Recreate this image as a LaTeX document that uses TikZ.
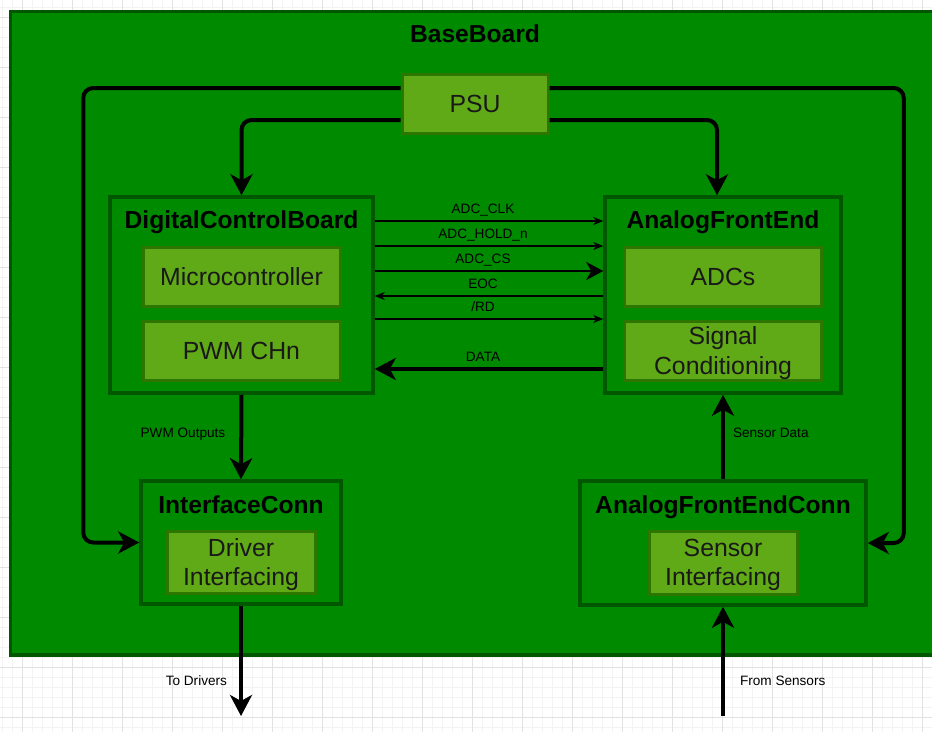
\documentclass[tikz,border=0pt]{standalone}
\usepackage{fontspec}
\setmainfont{Liberation Sans}
\usetikzlibrary{arrows.meta}
\definecolor{bgreen}{HTML}{008A00}
\definecolor{bline}{HTML}{005700}
\definecolor{lgreen}{HTML}{60A917}
\definecolor{lline}{HTML}{2D7600}
\definecolor{gmajor}{HTML}{E2E2E2}
\definecolor{gminor}{HTML}{F3F3F3}
\tikzset{
  board/.style={draw=bline,fill=bgreen,line width=3.5pt,inner sep=0pt},
  part/.style={draw=lline,fill=lgreen,line width=3pt,align=center,inner sep=0pt,text depth=0pt,font=\fontsize{24.8}{29.5}\selectfont,text=black!90},
  unit/.style={part,minimum width=197pt,minimum height=59pt},
  ttl/.style={font=\bfseries\fontsize{24.6}{29}\selectfont,inner sep=0pt,text height=17.5pt,text depth=0pt},
  sig/.style={font=\fontsize{13.6}{16}\selectfont,inner sep=0pt,anchor=base,yshift=7.5pt,xshift=-6pt},
  lbl/.style={font=\fontsize{13.6}{16}\selectfont,inner sep=0pt,text height=9.7pt,text depth=0pt},
  bus/.style={-{Stealth[length=10pt,width=8pt,inset=3pt]},line width=1.3pt},
  busm/.style={-{Stealth[length=17pt,width=18pt,inset=5pt]},line width=2.7pt},
  pwr/.style={-{Stealth[length=21pt,width=22pt,inset=6pt]},line width=4pt,rounded corners=10pt},
}
\begin{document}
\begin{tikzpicture}[x=1pt,y=-1pt]
  \useasboundingbox (0,0) rectangle (932,732);
  \fill[white] (0,0) rectangle (932,732);
  \foreach \x in {2,12,...,932} \draw[gminor,line width=1pt] (\x,0) -- (\x,732);
  \foreach \y in {7,17,...,732} \draw[gminor,line width=1pt] (0,\y) -- (932,\y);
  \foreach \x in {22,72,...,932} \draw[gmajor,line width=1pt] (\x,0) -- (\x,732);
  \foreach \y in {17,67,...,732} \draw[gmajor,line width=1pt] (0,\y) -- (932,\y);

  \node[board,minimum width=935.5pt,minimum height=643.5pt] (base) at (478.25,333.25) {};
  \node[ttl] (baset) at (475,34) {BaseBoard};
  \node[part,minimum width=146pt,minimum height=59pt] (psu) at (475,103.5) {PSU};

  \node[board,minimum width=263pt,minimum height=196pt] (dcb) at (241.5,295) {};
  \node[ttl] (dcbt) at (241.5,220) {DigitalControlBoard};
  \node[unit] (mcu) at (241.5,276.5) {Microcontroller};
  \node[unit] (pwm) at (241.5,350.5) {PWM CHn};

  \node[board,minimum width=236pt,minimum height=196pt] (afe) at (723,295) {};
  \node[ttl] (afet) at (723,220) {AnalogFrontEnd};
  \node[unit] (adc) at (723,276.5) {ADCs};
  \node[unit] (sigc) at (723,350.5) {Signal\\Conditioning};

  \node[board,minimum width=200pt,minimum height=123pt] (ifc) at (241,542.5) {};
  \node[ttl] (ifct) at (241,505) {InterfaceConn};
  \node[part,minimum width=148pt,minimum height=62pt] (drv) at (241,562) {Driver\\Interfacing};

  \node[board,minimum width=286pt,minimum height=124pt] (afec) at (723,543) {};
  \node[ttl] (afect) at (723,505) {AnalogFrontEndConn};
  \node[part,minimum width=148pt,minimum height=63pt] (sens) at (723,562.5) {Sensor\\Interfacing};

  \coordinate (todrv) at (241,716);
  \coordinate (fromsens) at (723,716);

  \draw[pwr] ([yshift=15.5pt]psu.west) -| ([xshift=-56pt]ifc.west) -- (ifc.west);
  \draw[pwr] ([yshift=15.5pt]psu.east) -| ([xshift=36pt]afec.east) -- (afec.east);
  \draw[pwr] ([yshift=-16.5pt]psu.west) -| (dcb.north);
  \draw[pwr] ([yshift=-16.5pt]psu.east) -| ([xshift=-6pt]afe.north);

  \draw[bus] ([yshift=74pt]dcb.east) -- ([yshift=74pt]afe.west) node[sig,midway] {ADC\_CLK};
  \draw[bus] ([yshift=49pt]dcb.east) -- ([yshift=49pt]afe.west) node[sig,midway] {ADC\_HOLD\_n};
  \draw[busm] ([yshift=24pt]dcb.east) -- ([yshift=24pt]afe.west) node[sig,midway] {ADC\_CS};
  \draw[bus] ([yshift=-1pt]afe.west) -- ([yshift=-1pt]dcb.east) node[sig,midway] {EOC};
  \draw[bus] ([yshift=-24pt]dcb.east) -- ([yshift=-24pt]afe.west) node[sig,midway] {/RD};
  \draw[pwr] ([yshift=-74pt]afe.west) -- ([yshift=-74pt]dcb.east) node[sig,midway] {DATA};

  \draw[pwr] (dcb.south) -- (ifc.north) node[lbl,midway,anchor=east,xshift=-14pt,yshift=4pt] {PWM Outputs};
  \draw[pwr] (afec.north) -- (afe.south) node[lbl,midway,anchor=west,xshift=8pt,yshift=4pt] {Sensor Data};
  \draw[pwr] (ifc.south) -- (todrv) node[lbl,pos=0.68,anchor=east,xshift=-12pt] {To Drivers};
  \draw[pwr] (fromsens) -- (afec.south) node[lbl,pos=0.32,anchor=west,xshift=15pt] {From Sensors};
\end{tikzpicture}
\end{document}
